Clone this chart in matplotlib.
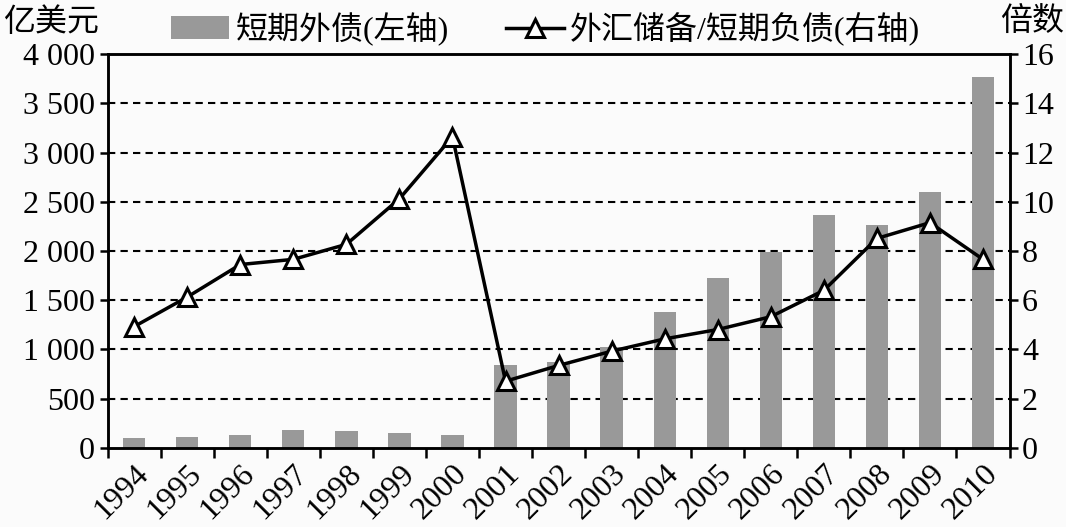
import numpy as np
import matplotlib
matplotlib.use("Agg")
import matplotlib.pyplot as plt

plt.rcParams['font.family'] = ['Liberation Serif', 'Noto Sans CJK SC']
plt.rcParams['axes.unicode_minus'] = False

years = ['1994', '1995', '1996', '1997', '1998', '1999', '2000', '2001', '2002',
         '2003', '2004', '2005', '2006', '2007', '2008', '2009', '2010']
# short-term external debt, 100 million USD (left axis)
short_debt = [105, 115, 135, 185, 170, 150, 135, 840, 870, 1020, 1380, 1723,
              1990, 2365, 2268, 2596, 3763]
# FX reserves / short-term debt, times (right axis)
ratio = [4.93, 6.13, 7.45, 7.66, 8.27, 10.12, 12.64, 2.71, 3.35, 3.93, 4.43,
         4.81, 5.33, 6.40, 8.51, 9.15, 7.66]
left_ticks = [0, 500, 1000, 1500, 2000, 2500, 3000, 3500, 4000]
left_labels = ['0', '500', '1 000', '1 500', '2 000', '2 500', '3 000', '3 500', '4 000']
right_ticks = [0, 2, 4, 6, 8, 10, 12, 14, 16]

fs = 23
x = np.arange(len(years))

fig = plt.figure(figsize=(10.66, 5.27), dpi=100)
fig.patch.set_facecolor('#fbfbfb')
ax = fig.add_axes([0.101, 0.150, 0.846, 0.7475])
ax.set_facecolor('#fbfbfb')

bars = ax.bar(x, short_debt, width=0.42, color='#999999', zorder=2,
              label='短期外债(左轴)')
ax.set_xlim(-0.5, len(years) - 0.5)
ax.set_ylim(0, 4000)
ax.set_yticks(left_ticks)
ax.set_yticklabels(left_labels, fontsize=fs)
for t in left_ticks[1:-1]:
    ax.axhline(t, color='black', lw=1.5, ls=(0, (3.5, 2.5)), zorder=1)

# tick marks between categories, labels centered under bars
ax.set_xticks(np.arange(-0.5, len(years), 1.0))
ax.set_xticklabels([])
ax.set_xticks(x, minor=True)
ax.set_xticklabels(years, minor=True, rotation=45, ha='right',
                   rotation_mode='anchor', fontsize=fs)
ax.tick_params(axis='x', which='minor', length=0, pad=8)
ax.tick_params(axis='x', which='major', direction='out', length=7, width=1.8)
ax.tick_params(axis='y', direction='out', length=6, width=1.8, pad=3)

ax2 = ax.twinx()
line, = ax2.plot(x, ratio, color='black', lw=2.5, marker='^', markersize=13,
                 markerfacecolor='white', markeredgecolor='black',
                 markeredgewidth=2.2, zorder=3, label='外汇储备/短期负债(右轴)')
ax2.set_ylim(0, 16)
ax2.set_yticks(right_ticks)
ax2.set_yticklabels([str(t) for t in right_ticks], fontsize=fs)
ax2.tick_params(axis='y', direction='out', length=6, width=1.8, pad=3)

for a in (ax, ax2):
    for s in a.spines.values():
        s.set_linewidth(1.8)
        s.set_color('black')

fig.text(0.003, 0.957, '亿美元', fontsize=fs, ha='left', va='center')
fig.text(0.998, 0.957, '倍数', fontsize=fs, ha='right', va='center')

fig.legend([bars, line], ['短期外债(左轴)', '外汇储备/短期负债(右轴)'],
           loc='center', bbox_to_anchor=(0.512, 0.945), ncol=2, frameon=False,
           fontsize=fs, handlelength=1.8, handletextpad=0.2, columnspacing=1.8,
           borderaxespad=0)

fig.savefig('out.png', dpi=100, facecolor=fig.get_facecolor())
